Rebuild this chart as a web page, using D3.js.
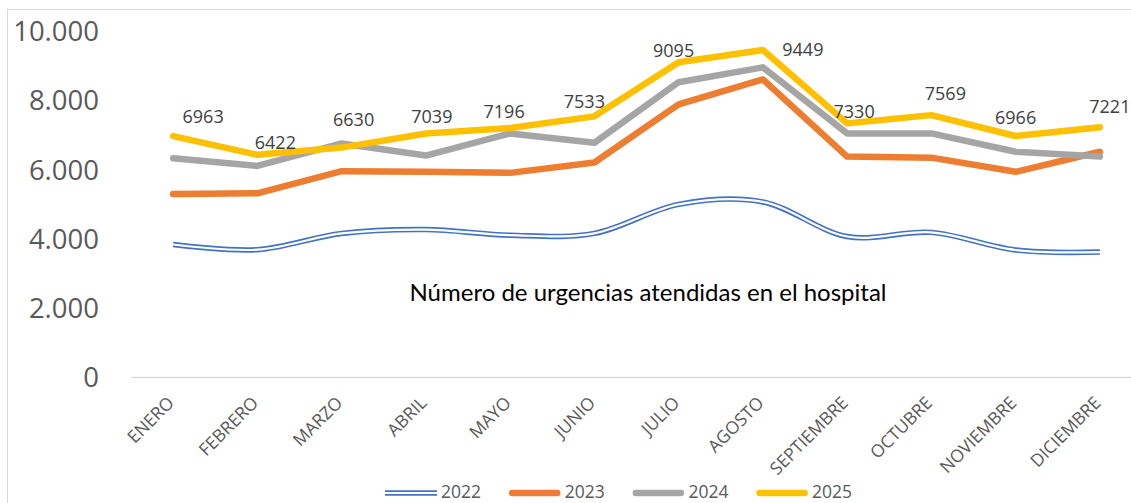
<!DOCTYPE html>
<html>
<head>
<meta charset="utf-8">
<script src="https://cdn.jsdelivr.net/npm/d3@7"></script>
<style>
  html, body { margin: 0; padding: 0; background: #ffffff; }
  svg { display: block; }
</style>
</head>
<body>
<svg id="chart" width="1131" height="503"></svg>
<script>
// Monthly emergency visits per year
const months = ["ENERO", "FEBRERO", "MARZO", "ABRIL", "MAYO", "JUNIO",
                "JULIO", "AGOSTO", "SEPTIEMBRE", "OCTUBRE", "NOVIEMBRE", "DICIEMBRE"];
const years = ["2022", "2023", "2024", "2025"];
const visits2022 = [3830, 3680, 4150, 4260, 4100, 4150, 4990, 5060, 4060, 4180, 3670, 3610];
const visits2023 = [5290, 5310, 5950, 5930, 5900, 6200, 7880, 8600, 6370, 6340, 5930, 6510];
const visits2024 = [6320, 6100, 6750, 6400, 7040, 6770, 8520, 8950, 7040, 7040, 6510, 6370];
const visits2025 = [6963, 6422, 6630, 7039, 7196, 7533, 9095, 9449, 7330, 7569, 6966, 7221];
const yTicks = [0, 2000, 4000, 6000, 8000, 10000];
const chartTitle = "Número de urgencias atendidas en el hospital";

// Hand-placed offsets of the 2025 value labels (label centre relative to the point)
const labelNudge = [[30, -19], [18, -12], [12, -28], [6, -17], [-6, -16], [-10, -15],
                    [-5, -12], [40, 0], [7, -12], [14, -21], [0, -18], [10, -20]];

const seriesValues = [visits2022, visits2023, visits2024, visits2025];
const colors = ["#4472C4", "#ED7D31", "#A5A5A5", "#FFC000"];

const svg = d3.select("#chart");
const axisFont = "'Open Sans', 'Noto Sans', sans-serif";
const calFont = "Lato, 'Open Sans', sans-serif";
const grey = "#595959";

// chart frame
svg.append("rect")
  .attr("x", 7.5).attr("y", 9.5)
  .attr("width", 1300).attr("height", 600)
  .attr("fill", "none").attr("stroke", "#d9d9d9").attr("stroke-width", 1);

const x = d3.scaleBand().domain(months).range([131, 1142]).padding(0);
const cx = m => x(m) + x.bandwidth() / 2;
const y = d3.scaleLinear().domain([0, 10000]).range([377, 31]);

// y axis labels
const yAxis = svg.append("g")
  .attr("transform", "translate(99,0)")
  .call(d3.axisLeft(y).tickValues(yTicks).tickSize(0).tickPadding(0)
        .tickFormat(d => d3.format(",")(d).replace(/,/g, ".")));
yAxis.select(".domain").remove();
yAxis.selectAll("text")
  .attr("fill", grey)
  .style("font-family", axisFont)
  .style("font-size", "27.5px")
  .attr("dy", "0.35em");

// x axis
const xAxis = svg.append("g")
  .attr("transform", "translate(0,377)")
  .call(d3.axisBottom(x).tickSize(0).tickSizeOuter(0));
xAxis.select(".domain").attr("stroke", "#d9d9d9").attr("stroke-width", 1.5);
xAxis.selectAll("text")
  .attr("fill", grey)
  .style("font-family", axisFont)
  .style("font-size", "17.5px")
  .attr("x", 0).attr("y", 0).attr("dy", 0)
  .attr("text-anchor", "end")
  .attr("transform", "translate(2,27) rotate(-45)");

// series lines
const straight = d3.line().x((d, i) => cx(months[i])).y(d => y(d));
const smooth = d3.line().x((d, i) => cx(months[i])).y(d => y(d))
  .curve(d3.curveCatmullRom.alpha(0));

const lines = svg.append("g");
seriesValues.forEach((vals, s) => {
  if (s === 0) {
    // 2022: smoothed double line
    lines.append("path").attr("d", smooth(vals))
      .attr("fill", "none").attr("stroke", colors[0]).attr("stroke-width", 5.5);
    lines.append("path").attr("d", smooth(vals))
      .attr("fill", "none").attr("stroke", "#ffffff").attr("stroke-width", 2.2);
  } else {
    lines.append("path").attr("d", straight(vals))
      .attr("fill", "none").attr("stroke", colors[s]).attr("stroke-width", 6.5)
      .attr("stroke-linecap", "round").attr("stroke-linejoin", "round");
  }
});

// 2025 value labels
svg.append("g").selectAll("text")
  .data(visits2025)
  .join("text")
  .attr("x", (d, i) => cx(months[i]) + labelNudge[i][0])
  .attr("y", (d, i) => y(d) + labelNudge[i][1])
  .attr("dy", "0.35em")
  .attr("text-anchor", "middle")
  .attr("fill", "#404040")
  .style("font-family", axisFont)
  .style("font-size", "18px")
  .text(d => d);

// title inside the plot
svg.append("text")
  .attr("x", 648).attr("y", 301)
  .attr("text-anchor", "middle")
  .attr("fill", "#000000")
  .style("font-family", calFont)
  .style("font-size", "24px")
  .text(chartTitle);

// legend
const legend = svg.append("g").selectAll("g")
  .data(years)
  .join("g")
  .attr("transform", (d, i) => `translate(${385 + i * 123.7},492)`);
legend.each(function(d, i) {
  const g = d3.select(this);
  if (i === 0) {
    g.append("line").attr("x1", 0).attr("x2", 52).attr("y1", 1).attr("y2", 1)
      .attr("stroke", colors[0]).attr("stroke-width", 5.5);
    g.append("line").attr("x1", 0).attr("x2", 52).attr("y1", 1).attr("y2", 1)
      .attr("stroke", "#ffffff").attr("stroke-width", 2.2);
  } else {
    g.append("line").attr("x1", 3.5).attr("x2", 48.5).attr("y1", 1).attr("y2", 1)
      .attr("stroke", colors[i]).attr("stroke-width", 6.5)
      .attr("stroke-linecap", "round");
  }
  g.append("text").attr("x", 56).attr("y", 0).attr("dy", "0.35em")
    .attr("fill", grey)
    .style("font-family", axisFont)
    .style("font-size", "17.5px")
    .text(d);
});
</script>
</body>
</html>
